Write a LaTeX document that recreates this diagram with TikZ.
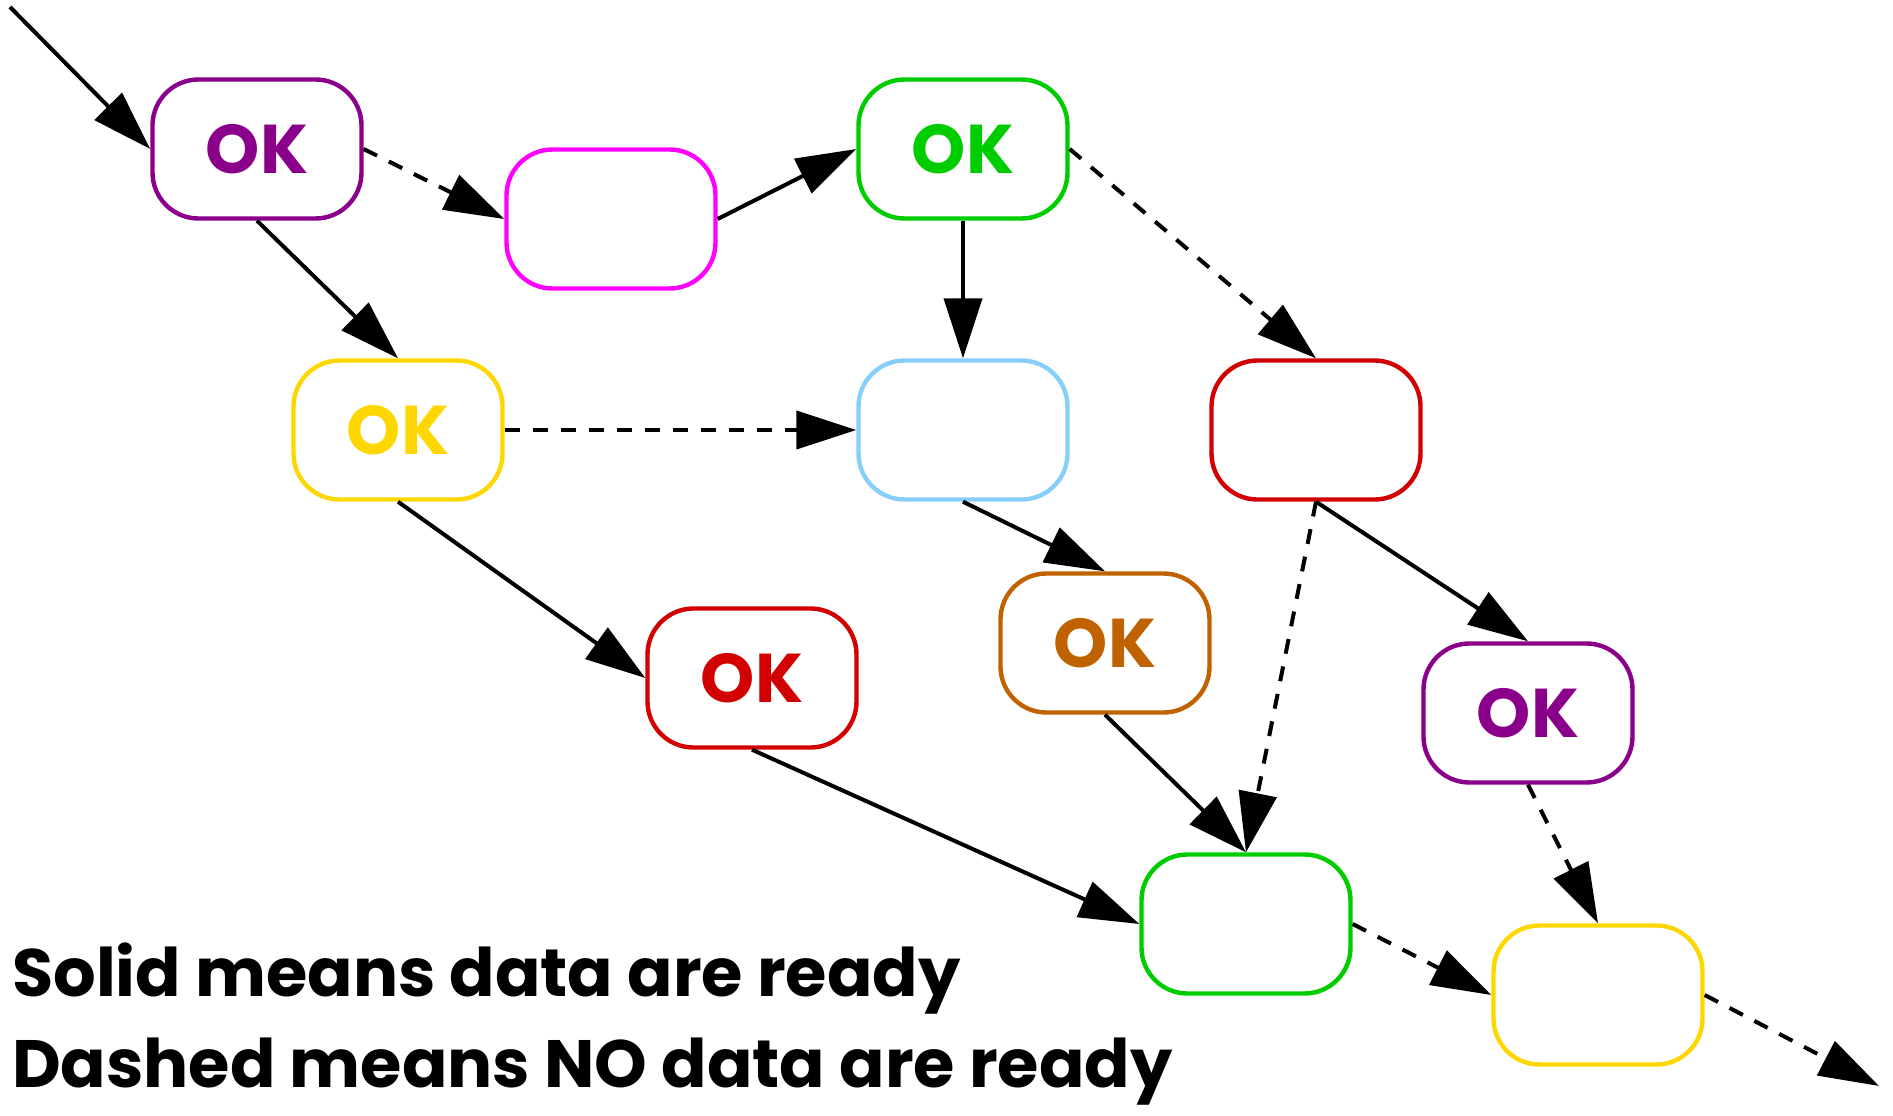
\documentclass[tikz,border=0pt]{standalone}
\usepackage{fontspec}
\setmainfont{Poppins}[UprightFont=* Bold]
\usetikzlibrary{arrows.meta}

\definecolor{okpurple}{RGB}{139,0,139}
\definecolor{okmagenta}{RGB}{255,0,255}
\definecolor{okgreen}{RGB}{0,205,0}
\definecolor{okgold}{RGB}{255,215,0}
\definecolor{okblue}{RGB}{135,206,250}
\definecolor{okred}{RGB}{210,0,0}
\definecolor{okorange}{RGB}{192,98,0}

\tikzset{
  task/.style={draw=#1, text=#1, rounded corners=46pt, line width=4.4pt,
    minimum width=209pt, minimum height=139pt, inner sep=0pt,
    font=\fontsize{69}{69}\selectfont},
  ready/.style={-{Triangle[length=60pt,width=38pt]}, line width=4pt},
  notready/.style={ready, dash pattern=on 15pt off 13pt},
}

\begin{document}
\begin{tikzpicture}[x=1pt,y=-1pt]
\useasboundingbox (0,0) rectangle (1893,1116);

% task boxes
\node[task=okpurple]  (a) at (257,149) {OK};
\node[task=okmagenta] (b) at (611,219) {};
\node[task=okgreen]   (c) at (963,149) {OK};
\node[task=okgold]    (d) at (398,430) {OK};
\node[task=okblue]    (e) at (963,430) {};
\node[task=okred]     (f) at (1316,430) {};
\node[task=okred]     (g) at (752,678) {OK};
\node[task=okorange]  (h) at (1105,643) {OK};
\node[task=okpurple]  (i) at (1528,713) {OK};
\node[task=okgreen]   (j) at (1246,924) {};
\node[task=okgold]    (k) at (1598,995) {};

\coordinate (in) at (10,7);
\coordinate (out) at (1879,1086);

% edges
\draw[ready]    (in) -- (a.west);
\draw[notready] (a.east) -- (b.west);
\draw[ready]    (a.south) -- (d.north);
\draw[ready]    (b.east) -- (c.west);
\draw[ready]    (c.south) -- (e.north);
\draw[notready] (c.east) -- (f.north);
\draw[notready] (d.east) -- (e.west);
\draw[ready]    (d.south) -- (g.west);
\draw[ready]    (e.south) -- (h.north);
\draw[notready] (f.south) -- (j.north);
\draw[ready]    (f.south) -- (i.north);
\draw[ready]    (g.south) -- (j.west);
\draw[ready]    (h.south) -- (j.north);
\draw[notready] (i.south) -- (k.north);
\draw[notready] (j.east) -- (k.west);
\draw[notready] (k.east) -- (out);

% legend
\node[anchor=base west, inner sep=0pt, font=\fontsize{67}{67}\selectfont] (solid) at (12,996) {Solid means data are ready};
\node[anchor=base west, inner sep=0pt, font=\fontsize{67}{67}\selectfont] (dashed) at (12,1087) {Dashed means NO data are ready};
\end{tikzpicture}
\end{document}
